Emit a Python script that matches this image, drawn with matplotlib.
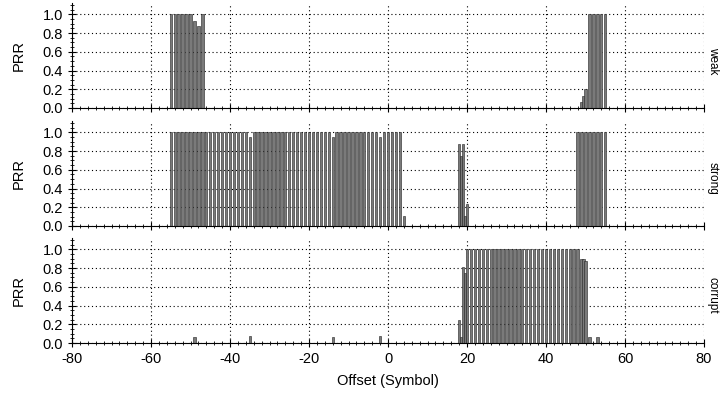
import numpy as np
import matplotlib
matplotlib.use("Agg")
import matplotlib.pyplot as plt
from matplotlib.ticker import MultipleLocator

plt.rcParams['font.family'] = ['Liberation Sans', 'DejaVu Sans']
plt.rcParams['axes.unicode_minus'] = False

# weak: offsets and PRR
weak_x = [-55, -54, -53, -52, -51, -50, -49, -48, -47,
          49, 49.5, 50, 51, 52, 53, 54, 55]
weak_y = [1.0, 1.0, 1.0, 1.0, 1.0, 1.0, 0.93, 0.88, 1.0,
          0.06, 0.13, 0.2, 1.0, 1.0, 1.0, 1.0, 1.0]

# strong
strong_x = list(range(-55, 5)) + [18, 18.5, 19, 19.5, 20] + list(range(48, 56))
strong_y = ([1.0] * 20 + [0.95] + [1.0] * 20 + [0.95] + [1.0] * 11 + [0.95] + [1.0] * 5 + [0.11]
            + [0.87, 0.75, 0.87, 0.11, 0.24]
            + [1.0] * 8)

# corrupt
corrupt_x = [-49, -35, -14, -2, 18, 18.5, 19, 19.5] + list(range(20, 49)) + [49, 49.5, 50, 51, 53]
corrupt_y = ([0.06, 0.07, 0.06, 0.07, 0.25, 0.06, 0.81, 0.75]
             + [1.0] * 29 + [0.9, 0.9, 0.87, 0.06, 0.06])

panels = [("weak", weak_x, weak_y), ("strong", strong_x, strong_y), ("corrupt", corrupt_x, corrupt_y)]

fig = plt.figure(figsize=(7.2, 3.96), dpi=100)
bottoms = [0.7273, 0.4293, 0.1338]
height = 0.265

for i, (name, xs, ys) in enumerate(panels):
    ax = fig.add_axes([0.1, bottoms[i], 0.8778, height])
    ax.bar(xs, ys, width=0.6, color='#7a7a7a', edgecolor='#202020', linewidth=0.4)
    ax.set_xlim(-80, 80)
    ax.set_ylim(0, 1.12)
    ax.set_yticks([0, 0.2, 0.4, 0.6, 0.8, 1.0])
    ax.set_yticklabels(['0.0', '0.2', '0.4', '0.6', '0.8', '1.0'])
    ax.set_xticks(range(-80, 81, 20))
    ax.xaxis.set_minor_locator(MultipleLocator(2))
    ax.yaxis.set_minor_locator(MultipleLocator(0.05))
    ax.tick_params(which='major', direction='inout', length=6, width=0.8, labelsize=10.5)
    ax.tick_params(which='minor', direction='inout', length=3, width=0.6)
    ax.spines['top'].set_visible(False)
    ax.spines['right'].set_visible(False)
    ax.grid(True, which='major', color='black', linestyle=(0, (1, 2.5)), linewidth=0.8)
    ax.set_axisbelow(True)
    ax.set_ylabel('PRR', fontsize=10.5, labelpad=12)
    ax.text(1.004, 0.45, name, rotation=-90, transform=ax.transAxes,
            va='center', ha='left', fontsize=8.5)
    if i < 2:
        ax.tick_params(axis='x', labelbottom=False)
    else:
        ax.set_xlabel('Offset (Symbol)', fontsize=10.5, labelpad=6)

fig.savefig('out.png', dpi=100)
